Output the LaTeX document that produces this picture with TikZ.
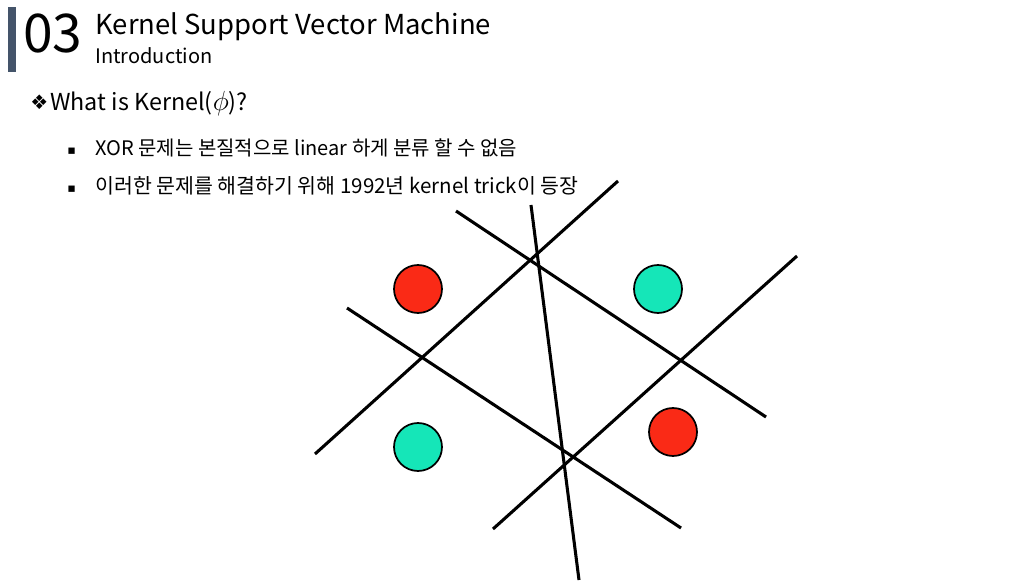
\documentclass[tikz,border=0pt]{standalone}
\usepackage{fontspec}
\setmainfont{Noto Sans CJK KR}
\newfontfamily\symfont{DejaVu Sans}
\definecolor{barslate}{HTML}{44546A}
\definecolor{dotred}{HTML}{FA2A16}
\definecolor{dotteal}{HTML}{15E6B8}
\tikzset{
  sep/.style={line width=2.3pt, black, line cap=butt},
  dot/.style={circle, draw=black, line width=1.3pt, minimum size=36pt, inner sep=0pt},
  txt/.style={anchor=base west, inner sep=0pt, text=black}
}
\begin{document}
\begin{tikzpicture}[x=0.75pt,y=-0.75pt]
  \useasboundingbox[fill=white] (0,0) rectangle (1025,584);
  % header
  \fill[barslate] (8,7) rectangle (16,72);
  \node[txt, font=\fontsize{40}{44}\selectfont] (num) at (23,53) {03};
  \node[txt, font=\fontsize{20.6}{24}\selectfont] (title) at (95,35) {Kernel Support Vector Machine};
  \node[txt, font=\fontsize{15}{18}\selectfont] (sub) at (95,64) {Introduction};
  % heading and bullets
  \node[txt, font=\fontsize{15}{18}\selectfont\symfont] (diam) at (30,110) {❖};
  \node[txt, font=\fontsize{17.5}{20}\selectfont] (head) at (50,111) {What is Kernel({\fontsize{21}{24}\selectfont$\phi$})?};
  \node[txt, font=\fontsize{9.5}{12}\selectfont\symfont] (b1) at (67,155) {▪};
  \node[txt, font=\fontsize{15}{18}\selectfont] (t1) at (95,156) {XOR 문제는 본질적으로 linear 하게 분류 할 수 없음};
  \node[txt, font=\fontsize{9.5}{12}\selectfont\symfont] (b2) at (67,193) {▪};
  \node[txt, font=\fontsize{15.4}{18}\selectfont] (t2) at (95,194) {이러한 문제를 해결하기 위해 1992년 kernel trick이 등장};
  % separating lines
  \coordinate (a1) at (315,454); \coordinate (a2) at (618,181);
  \coordinate (b1s) at (347,308); \coordinate (b2s) at (681,528);
  \coordinate (c1) at (456,211); \coordinate (c2) at (766,417);
  \coordinate (d1) at (531,205); \coordinate (d2) at (579,580);
  \coordinate (e1) at (493,529); \coordinate (e2) at (797,256);
  \draw[sep] (a1) -- (a2);
  \draw[sep] (b1s) -- (b2s);
  \draw[sep] (c1) -- (c2);
  \draw[sep] (d1) -- (d2);
  \draw[sep] (e1) -- (e2);
  % XOR points
  \node[dot, fill=dotred] (p1) at (418,289) {};
  \node[dot, fill=dotteal] (p2) at (658,289) {};
  \node[dot, fill=dotteal] (p3) at (418,447) {};
  \node[dot, fill=dotred] (p4) at (673,432) {};
\end{tikzpicture}
\end{document}
